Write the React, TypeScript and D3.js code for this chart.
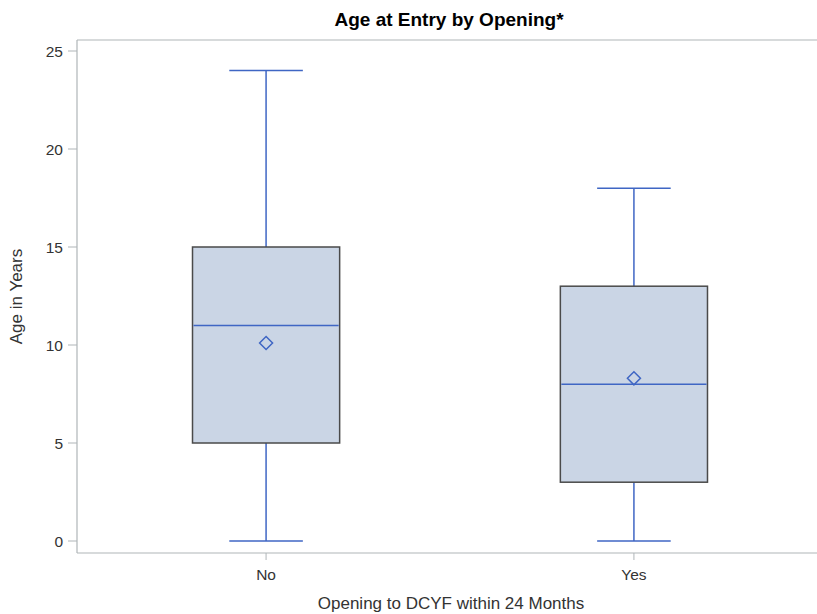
import React from "react";
import * as d3 from "d3";

const categories = ["No", "Yes"];
const minValues = [0, 0];
const q1Values = [5, 3];
const medianValues = [11, 8];
const q3Values = [15, 13];
const maxValues = [24, 18];
const meanValues = [10.1, 8.3];
const yTicks = [0, 5, 10, 15, 20, 25];

const W = 817;
const H = 614;
const left = 77;
const right = 823;
const top = 40;
const bottom = 553;

export default function App() {
  const x = d3.scalePoint<string>().domain(categories).range([left, right]).padding(0.514);
  const y = d3.scaleLinear().domain([0, 25]).range([541, 51]);
  const step = x.step();
  const boxW = step * 0.4;
  const capW = boxW / 2;
  const font = "'Liberation Sans', Arial, sans-serif";
  const blue = "#3F66C4";
  const frame = "#AFB5B8";

  return (
    <svg width={W} height={H} style={{ position: "absolute", left: 0, top: 0, background: "#fff" }}>
      <text x={449} y={26} textAnchor="middle" fontFamily={font} fontWeight="bold" fontSize={19} fill="#000">
        Age at Entry by Opening*
      </text>
      {/* frame */}
      <line x1={left} x2={W} y1={top} y2={top} stroke={frame} strokeWidth={1.2} />
      <line x1={left} x2={W} y1={bottom} y2={bottom} stroke={frame} strokeWidth={1.2} />
      <line x1={left} x2={left} y1={top} y2={bottom} stroke={frame} strokeWidth={1.2} />
      {/* y axis */}
      {yTicks.map((t) => (
        <g key={t}>
          <line x1={left - 9} x2={left} y1={y(t)} y2={y(t)} stroke={frame} strokeWidth={1} />
          <text x={63} y={y(t) + 6} textAnchor="end" fontFamily={font} fontSize={15.5} fill="#333">
            {t}
          </text>
        </g>
      ))}
      <text
        transform={`translate(22, ${(top + bottom) / 2}) rotate(-90)`}
        textAnchor="middle"
        fontFamily={font}
        fontSize={17}
        fill="#333"
      >
        Age in Years
      </text>
      {/* x axis */}
      {categories.map((c) => (
        <g key={c}>
          <line x1={x(c)} x2={x(c)} y1={bottom} y2={bottom + 7} stroke={frame} strokeWidth={1} />
          <text x={x(c)} y={579.5} textAnchor="middle" fontFamily={font} fontSize={15.5} fill="#333">
            {c}
          </text>
        </g>
      ))}
      <text x={451} y={609} textAnchor="middle" fontFamily={font} fontSize={17} fill="#333">
        Opening to DCYF within 24 Months
      </text>
      {/* boxes */}
      {categories.map((c, i) => {
        const cx = x(c) as number;
        const my = y(meanValues[i]);
        const d = 6.5;
        return (
          <g key={c}>
            <line x1={cx} x2={cx} y1={y(q3Values[i])} y2={y(maxValues[i])} stroke={blue} strokeWidth={1.5} />
            <line x1={cx} x2={cx} y1={y(q1Values[i])} y2={y(minValues[i])} stroke={blue} strokeWidth={1.5} />
            <line x1={cx - capW / 2} x2={cx + capW / 2} y1={y(maxValues[i])} y2={y(maxValues[i])} stroke={blue} strokeWidth={1.5} />
            <line x1={cx - capW / 2} x2={cx + capW / 2} y1={y(minValues[i])} y2={y(minValues[i])} stroke={blue} strokeWidth={1.5} />
            <rect
              x={cx - boxW / 2}
              y={y(q3Values[i])}
              width={boxW}
              height={y(q1Values[i]) - y(q3Values[i])}
              fill="#CAD5E5"
              stroke="#4A4A4A"
              strokeWidth={1.5}
            />
            <line x1={cx - boxW / 2 + 1} x2={cx + boxW / 2 - 1} y1={y(medianValues[i])} y2={y(medianValues[i])} stroke={blue} strokeWidth={1.5} />
            <path
              d={`M${cx},${my - d} L${cx + d},${my} L${cx},${my + d} L${cx - d},${my} Z`}
              fill="none"
              stroke={blue}
              strokeWidth={1.5}
            />
          </g>
        );
      })}
    </svg>
  );
}
